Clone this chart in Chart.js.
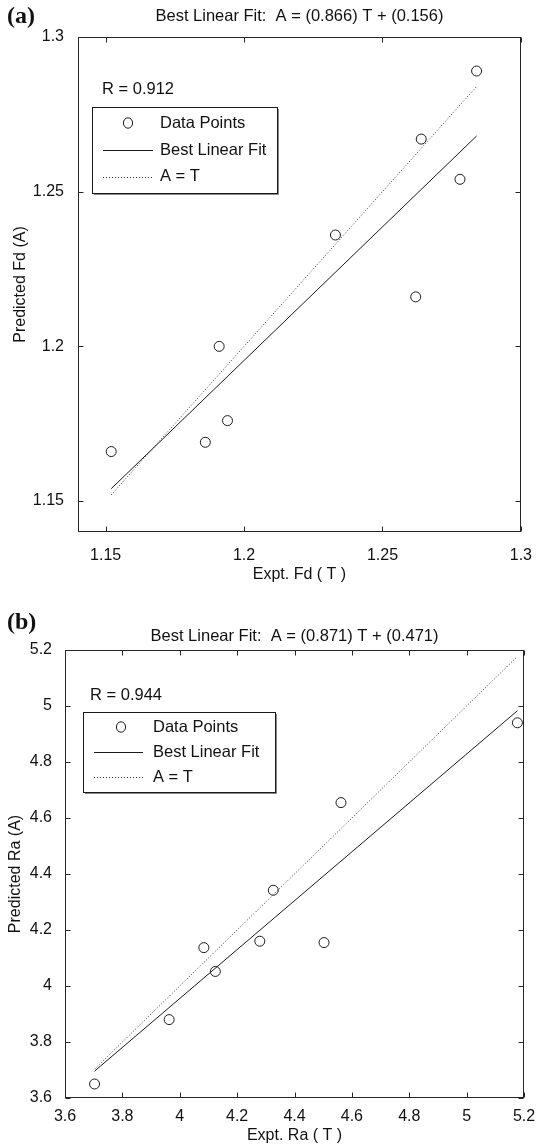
<!DOCTYPE html>
<html>
<head>
<meta charset="utf-8">
<script src="https://cdn.jsdelivr.net/npm/chart.js@4/dist/chart.umd.min.js"></script>
<style>
  html, body { margin: 0; padding: 0; background: #fff; }
  #wrap { position: relative; width: 538px; height: 1145px; }
  canvas { position: absolute; left: 0; }
  #chartA { top: 0; }
  #chartB { top: 590px; }
</style>
</head>
<body>
<div id="wrap">
  <canvas id="chartA" width="538" height="590"></canvas>
  <canvas id="chartB" width="538" height="555"></canvas>
</div>
<script>
// (a) flank diameter: experimental (T) vs predicted (A)
const fdExpt = [1.152, 1.186, 1.191, 1.194, 1.233, 1.262, 1.264, 1.278, 1.284];
const fdPred = [1.166, 1.169, 1.200, 1.176, 1.236, 1.216, 1.267, 1.254, 1.289];
const fdFitX = [1.152, 1.284];
const fdFitY = [1.154, 1.268];
const fdTicks = [1.15, 1.2, 1.25, 1.3];
const fdRange = [1.14, 1.3];

// (b) surface roughness: experimental (T) vs predicted (A)
const raExpt = [3.703, 3.963, 4.084, 4.124, 4.279, 4.326, 4.503, 4.562, 5.177];
const raPred = [3.650, 3.880, 4.137, 4.052, 4.160, 4.342, 4.155, 4.655, 4.940];
const raFitX = [3.703, 5.177];
const raFitY = [3.696, 4.983];
const raTicks = [3.6, 3.8, 4, 4.2, 4.4, 4.6, 4.8, 5, 5.2];
const raRange = [3.6, 5.2];

const seriesNames = ['Data Points', 'Best Linear Fit', 'A = T'];

Chart.defaults.font.family = '"Liberation Sans", Arial, sans-serif';
Chart.defaults.font.size = 16;
Chart.defaults.color = '#111';

const xy = (xs, ys) => xs.map((v, i) => ({ x: v, y: ys[i] }));

// box with inward ticks on all sides, title, R value and a MATLAB-like legend
const panel = {
  id: 'panel',
  afterDraw(chart, args, o) {
    const ctx = chart.ctx, a = chart.chartArea;
    const sx = chart.scales.x, sy = chart.scales.y;
    ctx.save();
    ctx.strokeStyle = '#262626';
    ctx.lineWidth = 1;
    const L = Math.round(a.left) + 0.5, R = Math.round(a.right) - 0.5;
    const T = Math.round(a.top) + 0.5, B = Math.round(a.bottom) - 0.5;
    ctx.strokeRect(L, T, R - L, B - T);
    ctx.beginPath();
    sx.ticks.forEach(t => {
      const p = Math.round(sx.getPixelForValue(t.value)) + 0.5;
      ctx.moveTo(p, B); ctx.lineTo(p, B - 5);
      ctx.moveTo(p, T); ctx.lineTo(p, T + 5);
    });
    sy.ticks.forEach(t => {
      const p = Math.round(sy.getPixelForValue(t.value)) + 0.5;
      ctx.moveTo(L, p); ctx.lineTo(L + 5, p);
      ctx.moveTo(R, p); ctx.lineTo(R - 5, p);
    });
    ctx.stroke();

    ctx.fillStyle = '#111';
    ctx.textBaseline = 'middle';
    ctx.font = '16.5px "Liberation Sans", Arial, sans-serif';
    ctx.textAlign = 'center';
    ctx.fillText(o.title, (a.left + a.right) / 2, o.titleY);
    ctx.textAlign = 'left';
    ctx.fillText(o.rText, o.rX, o.rY);
    ctx.font = 'bold 24px "Liberation Serif", "Times New Roman", serif';
    ctx.fillText(o.tag, o.tagX, o.tagY);

    const g = o.legend;
    ctx.fillStyle = '#fff';
    ctx.fillRect(g.x, g.y, g.w, g.h);
    ctx.strokeStyle = '#1a1a1a';
    ctx.strokeRect(g.x + 0.5, g.y + 0.5, g.w, g.h);
    ctx.strokeStyle = '#888';
    ctx.beginPath();
    ctx.moveTo(g.x + g.w + 1.5, g.y + 2);
    ctx.lineTo(g.x + g.w + 1.5, g.y + g.h + 1.5);
    ctx.lineTo(g.x + 2, g.y + g.h + 1.5);
    ctx.stroke();

    ctx.font = '16.5px "Liberation Sans", Arial, sans-serif';
    chart.data.datasets.forEach((ds, i) => {
      const ry = g.rowY[i];
      ctx.strokeStyle = ds.borderColor;
      ctx.lineWidth = 1;
      if (ds.showLine) {
        ctx.setLineDash(ds.borderDash || []);
        ctx.beginPath();
        ctx.moveTo(g.lineX0, Math.round(ry) + 0.5);
        ctx.lineTo(g.lineX1, Math.round(ry) + 0.5);
        ctx.stroke();
        ctx.setLineDash([]);
      } else {
        ctx.beginPath();
        ctx.ellipse(g.markX, ry, 4.6, 5.2, 0, 0, Math.PI * 2);
        ctx.stroke();
      }
      ctx.fillStyle = '#111';
      ctx.fillText(ds.label, g.textX, ry);
    });
    ctx.restore();
  }
};

function makeChart(id, pts, fit, ident, ticks, range, texts, look) {
  const axis = (which) => ({
    type: 'linear',
    min: range[0],
    max: range[1],
    afterBuildTicks: s => { s.ticks = ticks.map(v => ({ value: v })); },
    afterFit: s => {
      if (which === 'y') s.width = look.yWidth; else s.height = look.xHeight;
    },
    grid: { display: false },
    border: { display: false },
    ticks: {
      autoSkip: false,
      maxRotation: 0,
      padding: which === 'y' ? look.yPad : look.xPad,
      callback: v => String(v)
    },
    title: {
      display: true,
      text: which === 'y' ? texts.yTitle : texts.xTitle,
      padding: which === 'y' ? { top: look.yTitlePad, bottom: 0 } : { top: 0, bottom: look.xTitlePad }
    }
  });

  return new Chart(document.getElementById(id), {
    type: 'scatter',
    data: {
      datasets: [
        {
          label: seriesNames[0],
          data: pts,
          showLine: false,
          pointStyle: 'circle',
          pointRadius: 5,
          pointBorderWidth: 1,
          borderColor: '#1a1a1a',
          backgroundColor: 'rgba(0,0,0,0)'
        },
        {
          label: seriesNames[1],
          data: fit,
          showLine: true,
          pointRadius: 0,
          borderWidth: 1,
          borderColor: '#1a1a1a'
        },
        {
          label: seriesNames[2],
          data: ident,
          showLine: true,
          pointRadius: 0,
          borderWidth: 1,
          borderDash: [1, 2],
          borderColor: '#333'
        }
      ]
    },
    options: {
      responsive: false,
      animation: false,
      devicePixelRatio: 1,
      layout: { padding: look.padding },
      plugins: {
        legend: { display: false },
        tooltip: { enabled: false },
        panel: Object.assign({}, texts.panel, look.panel)
      },
      scales: { x: axis('x'), y: axis('y') }
    },
    plugins: [panel]
  });
}

makeChart('chartA',
  xy(fdExpt, fdPred), xy(fdFitX, fdFitY), xy(fdFitX, fdFitX),
  fdTicks, fdRange,
  {
    xTitle: 'Expt. Fd ( T )',
    yTitle: 'Predicted Fd (A)',
    panel: { title: 'Best Linear Fit:  A = (0.866) T + (0.156)', rText: 'R = 0.912', tag: '(a)' }
  },
  {
    padding: { top: 37, left: 0, right: 17, bottom: 0 },
    yWidth: 78, xHeight: 58, yPad: 6, xPad: 6, yTitlePad: 11, xTitlePad: 6,
    panel: {
      titleY: 16, tagX: 7, tagY: 17, rX: 102, rY: 89,
      legend: { x: 92, y: 107, w: 185, h: 86, rowY: [123, 150, 176.5], markX: 128, lineX0: 103, lineX1: 153, textX: 160 }
    }
  });

makeChart('chartB',
  xy(raExpt, raPred), xy(raFitX, raFitY), xy(raFitX, raFitX),
  raTicks, raRange,
  {
    xTitle: 'Expt. Ra ( T )',
    yTitle: 'Predicted Ra (A)',
    panel: { title: 'Best Linear Fit:  A = (0.871) T + (0.471)', rText: 'R = 0.944', tag: '(b)' }
  },
  {
    padding: { top: 60, left: 0, right: 14, bottom: 0 },
    yWidth: 65, xHeight: 47, yPad: 5, xPad: 1, yTitlePad: 6, xTitlePad: 0,
    panel: {
      titleY: 46, tagX: 7, tagY: 33, rX: 90, rY: 105,
      legend: { x: 83, y: 122, w: 192, h: 80, rowY: [137, 162, 187], markX: 121, lineX0: 94, lineX1: 143, textX: 153 }
    }
  });
</script>
</body>
</html>
